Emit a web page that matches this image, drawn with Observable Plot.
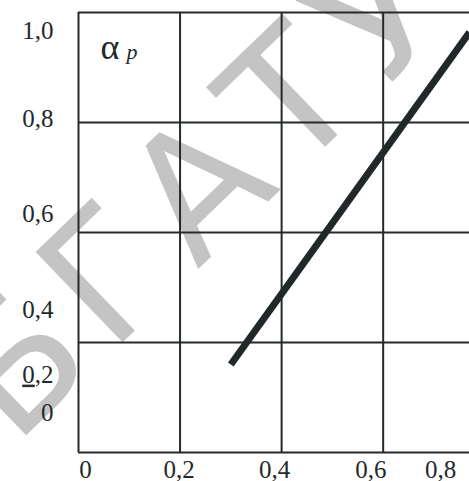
<!DOCTYPE html>
<html>
<head>
<meta charset="utf-8">
<script src="https://cdn.jsdelivr.net/npm/d3@7"></script>
<script src="https://cdn.jsdelivr.net/npm/@observablehq/plot@0.6"></script>
<style>
  html, body { margin: 0; padding: 0; background: #fff; }
  #chart svg { display: block; }
  tspan.ul { text-decoration: underline; text-decoration-thickness: 2.5px; text-underline-offset: 5px; }
</style>
</head>
<body>
<div id="chart"></div>
<script>
// grid positions (data units)
const xGrid = [0, 0.2, 0.4, 0.6];
const yGrid = [0, 0.25, 0.5, 0.75, 1.0];

// the plotted straight line α_p
const lineX = [0.3, 0.77];
const lineY = [0.2, 0.955];

// tick labels as they appear in the picture
const xTickLabels = ["0", "0,2", "0,4", "0,6", "0,8"];
const xTickAt = [0.014, 0.198, 0.386, 0.576, 0.713];
const yTickLabels = ["1,0", "0,8", "0,6", "0,4", "0,2", "0"];
const yTickAt = [0.959, 0.759, 0.541, 0.325, 0.177, 0.089];

const watermark = ["БГАТУ"];
const axisSymbol = ["α"];
const axisSub = ["p"];

const lineData = lineX.map((x, i) => ({x, y: lineY[i]}));
const serif = "'Liberation Serif', 'Times New Roman', serif";
const ink = "#24292b";

const chart = Plot.plot({
  width: 469,
  height: 481,
  marginLeft: 78,
  marginRight: 0,
  marginTop: 12,
  marginBottom: 29,
  x: {domain: [0, 0.77], axis: null},
  y: {domain: [0, 1], axis: null},
  style: {background: "#fff", fontFamily: serif, overflow: "hidden"},
  marks: [
    Plot.text(watermark, {
      text: d => d, frameAnchor: "top-left", dx: 124, dy: 176,
      rotate: -44, fontSize: 172, fill: "#c4c4c4",
      fontFamily: "'DejaVu Sans', sans-serif",
      textAnchor: "middle", lineAnchor: "middle"
    }),
    Plot.ruleX(xGrid, {x: d => d, stroke: ink, strokeWidth: 2}),
    Plot.ruleY(yGrid, {y: d => d, stroke: ink, strokeWidth: 2}),
    Plot.line(lineData, {x: "x", y: "y", stroke: "#222829", strokeWidth: 7, strokeLinecap: "butt"}),
    Plot.text(xTickLabels, {
      x: (d, i) => xTickAt[i], text: d => d, frameAnchor: "bottom", dy: 17,
      lineAnchor: "middle", fontSize: 25, fill: ink, fontFamily: serif
    }),
    Plot.text(yTickLabels, {
      y: (d, i) => yTickAt[i], text: d => d, frameAnchor: "left", dx: -25,
      textAnchor: "end", lineAnchor: "middle", fontSize: 25, fill: ink, fontFamily: serif
    }),
    Plot.text(axisSymbol, {
      text: d => d, frameAnchor: "top-left", dx: 22, dy: 46,
      textAnchor: "start", lineAnchor: "bottom", fontSize: 36, fill: ink, fontFamily: serif
    }),
    Plot.text(axisSub, {
      text: d => d, frameAnchor: "top-left", dx: 48, dy: 46,
      textAnchor: "start", lineAnchor: "bottom", fontSize: 22, fontStyle: "italic", fill: ink, fontFamily: serif
    })
  ]
});
const texts = d3.select(chart).selectAll("text");
// spread the watermark letters as in the source
texts.filter(function() { return this.textContent === "БГАТУ"; })
  .style("letter-spacing", "16px");
// the "0" of the y label "0,2" is underlined in the source picture
const zeroTwo = texts.filter(function() { return this.textContent === "0,2"; }).nodes();
if (zeroTwo.length) {
  const t = d3.select(zeroTwo[zeroTwo.length - 1]);
  t.text(null);
  t.append("tspan").attr("class", "ul").text("0");
  t.append("tspan").text(",2");
}
document.getElementById("chart").appendChild(chart);
</script>
</body>
</html>
